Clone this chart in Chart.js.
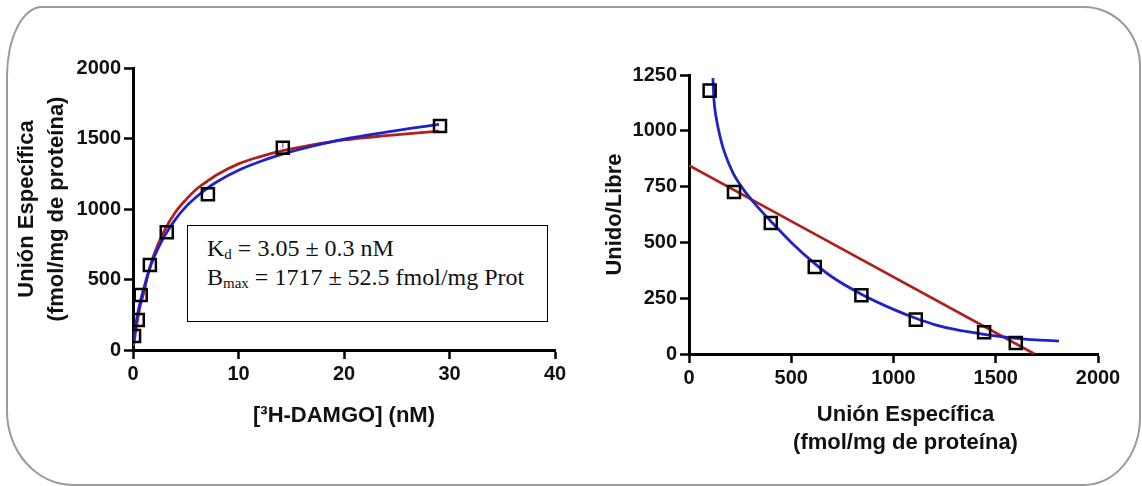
<!DOCTYPE html>
<html>
<head>
<meta charset="utf-8">
<script src="https://cdn.jsdelivr.net/npm/chart.js@4/dist/chart.umd.min.js"></script>
<style>
    html, body { margin: 0; padding: 0; background: #fff; }
    #page { position: relative; width: 1142px; height: 486px; overflow: hidden; }
    #frame {
        position: absolute; left: 6px; top: 6px; width: 1135px; height: 480px;
        box-sizing: border-box; border: 2px solid #9a9a9a;
        border-radius: 36px 57px 57px 67px / 70px 60px 68px 75px;
    }
    #satCanvas { position: absolute; left: 0; top: 0; }
    #scatCanvas { position: absolute; left: 580px; top: 0; }
    #paramBox {
        position: absolute; left: 187px; top: 225px; width: 361px; height: 97px;
        box-sizing: border-box; border: 1.5px solid #000; background: #fff;
        font-family: 'Liberation Serif', 'Times New Roman', serif; font-size: 24px;
        color: #111; padding: 8px 0 0 19px; line-height: 29px;
    }
    #paramBox sub { font-size: 15px; vertical-align: -3px; line-height: 0; }
</style>
</head>
<body>
<div id="page">
    <div id="frame"></div>
    <canvas id="satCanvas" width="600" height="486"></canvas>
    <canvas id="scatCanvas" width="562" height="486"></canvas>
    <div id="paramBox">
        <div>K<sub>d</sub> = 3.05 ± 0.3 nM</div>
        <div>B<sub>max</sub> = 1717 ± 52.5 fmol/mg Prot</div>
    </div>
</div>
<script>
// --- Saturation data (left) ---
const satConc = [0.1, 0.45, 0.73, 1.6, 3.2, 7.1, 14.2, 29.1];
const satBound = [100, 213, 390, 603, 835, 1104, 1435, 1589];
const satSemIndex = 6;
const satSem = 42;

// fitted curves
const satRedX = [0.05, 0.2, 0.4, 0.7, 1, 1.5, 2, 3, 4, 5, 6, 7, 8, 10, 12, 14, 17, 20, 24, 29];
const satRedY = [30, 105, 200, 320, 400, 560, 680, 850, 975, 1065, 1140, 1195, 1245, 1320, 1370, 1410, 1455, 1490, 1520, 1552];
const satBlueX = [0.05, 0.2, 0.4, 0.7, 1, 1.5, 2, 3, 4, 5, 6, 7, 8, 10, 12, 14, 17, 20, 24, 29];
const satBlueY = [60, 150, 240, 345, 430, 560, 660, 810, 925, 1015, 1085, 1145, 1195, 1275, 1335, 1385, 1445, 1495, 1545, 1600];

// --- Scatchard data (right) ---
const scatBound = [101, 220, 400, 615, 843, 1109, 1443, 1598];
const scatRatio = [1180, 726, 587, 390, 263, 154, 97, 49];
const scatRedX = [0, 1690];
const scatRedY = [845, 0];
const scatBlueX = [117, 122, 130, 142, 160, 175, 215, 264, 330, 400, 500, 615, 700, 843, 1000, 1109, 1200, 1300, 1443, 1600, 1700, 1809];
const scatBlueY = [1236, 1140, 1075, 1015, 945, 900, 811, 740, 665, 595, 500, 405, 345, 268, 200, 160, 132, 110, 88, 70, 63, 58];

const satXTicks = [0, 10, 20, 30, 40];
const satYTicks = [0, 500, 1000, 1500, 2000];
const scatXTicks = [0, 500, 1000, 1500, 2000];
const scatYTicks = [0, 250, 500, 750, 1000, 1250];

const RED = '#b0201c';
const BLUE = '#1f22c8';
const SANS = "'Liberation Sans', Arial, sans-serif";

function pts(xs, ys) {
    return xs.map((x, i) => ({ x: x, y: ys[i] }));
}

function axis(ticks, title, fitSize, isY) {
    return {
        type: 'linear',
        min: ticks[0],
        max: ticks[ticks.length - 1],
        afterBuildTicks: (scale) => { scale.ticks = ticks.map(v => ({ value: v })); },
        afterFit: (scale) => {
            if (isY) scale.width = fitSize; else scale.height = fitSize;
        },
        grid: { drawOnChartArea: false, drawTicks: true, tickLength: 9, tickWidth: 2.5, tickColor: '#000' },
        border: { display: true, color: '#000', width: 3 },
        ticks: {
            color: '#111',
            padding: 3,
            font: { family: SANS, size: 20, weight: 'bold' },
            callback: (v) => String(v)
        },
        title: title
    };
}

const squareStyle = {
    showLine: false,
    pointStyle: 'rect',
    pointRadius: 8.5,
    pointHoverRadius: 8.5,
    pointBorderWidth: 2.5,
    pointBorderColor: '#000',
    pointBackgroundColor: 'rgba(0,0,0,0)'
};

function curve(data, color) {
    return {
        data: data,
        showLine: true,
        borderColor: color,
        borderWidth: 2.8,
        pointRadius: 0,
        cubicInterpolationMode: 'monotone'
    };
}

const baseOptions = {
    responsive: false,
    animation: false,
    plugins: { legend: { display: false }, tooltip: { enabled: false } }
};

// --- Left chart: saturation ---
const semTop = satBound[satSemIndex] + satSem;
new Chart(document.getElementById('satCanvas'), {
    type: 'scatter',
    data: {
        datasets: [
            Object.assign({ data: pts(satConc, satBound) }, squareStyle),
            {
                data: [{ x: satConc[satSemIndex], y: satBound[satSemIndex] }, { x: satConc[satSemIndex], y: semTop }],
                showLine: true, borderColor: '#8a8a8a', borderWidth: 1.5,
                pointRadius: [0, 4], pointStyle: 'line', pointBorderColor: '#8a8a8a', pointBorderWidth: 1.5
            },
            curve(pts(satBlueX, satBlueY), BLUE),
            curve(pts(satRedX, satRedY), RED)
        ]
    },
    options: Object.assign({}, baseOptions, {
        layout: { padding: { top: 68, right: 45, left: 0, bottom: 0 } },
        scales: {
            x: axis(satXTicks, {
                display: true, text: '[³H-DAMGO] (nM)', color: '#111',
                font: { family: SANS, size: 22, weight: 'bold' },
                padding: { top: 0, bottom: 57 }
            }, 136, false),
            y: axis(satYTicks, {
                display: true, text: ['Unión Específica', '(fmol/mg de proteína)'], color: '#111',
                font: { family: SANS, size: 22, weight: 'bold', lineHeight: 1.36 },
                padding: { top: 12, bottom: 0 }
            }, 133, true)
        }
    })
});

// right chart x title sits a little right of the axis centre
const scatXTitle = {
    id: 'scatXTitle',
    afterDraw(chart) {
        const ctx = chart.ctx;
        const area = chart.chartArea;
        const cx = (area.left + area.right) / 2 + 12;
        ctx.save();
        ctx.fillStyle = '#111';
        ctx.font = "bold 22px " + SANS;
        ctx.textAlign = 'center';
        ctx.textBaseline = 'middle';
        ctx.fillText('Unión Específica', cx, 415);
        ctx.fillText('(fmol/mg de proteína)', cx, 443);
        ctx.restore();
    }
};

// --- Right chart: Scatchard ---
new Chart(document.getElementById('scatCanvas'), {
    type: 'scatter',
    data: {
        datasets: [
            Object.assign({ data: pts(scatBound, scatRatio) }, squareStyle),
            curve(pts(scatBlueX, scatBlueY), BLUE),
            curve(pts(scatRedX, scatRedY), RED)
        ]
    },
    options: Object.assign({}, baseOptions, {
        layout: { padding: { top: 75, right: 44, left: 0, bottom: 0 } },
        scales: {
            x: axis(scatXTicks, { display: false }, 132, false),
            y: axis(scatYTicks, {
                display: true, text: 'Unido/Libre', color: '#111',
                font: { family: SANS, size: 22, weight: 'bold' },
                padding: { top: 22, bottom: 0 }
            }, 109, true)
        }
    }),
    plugins: [scatXTitle]
});
</script>
</body>
</html>
